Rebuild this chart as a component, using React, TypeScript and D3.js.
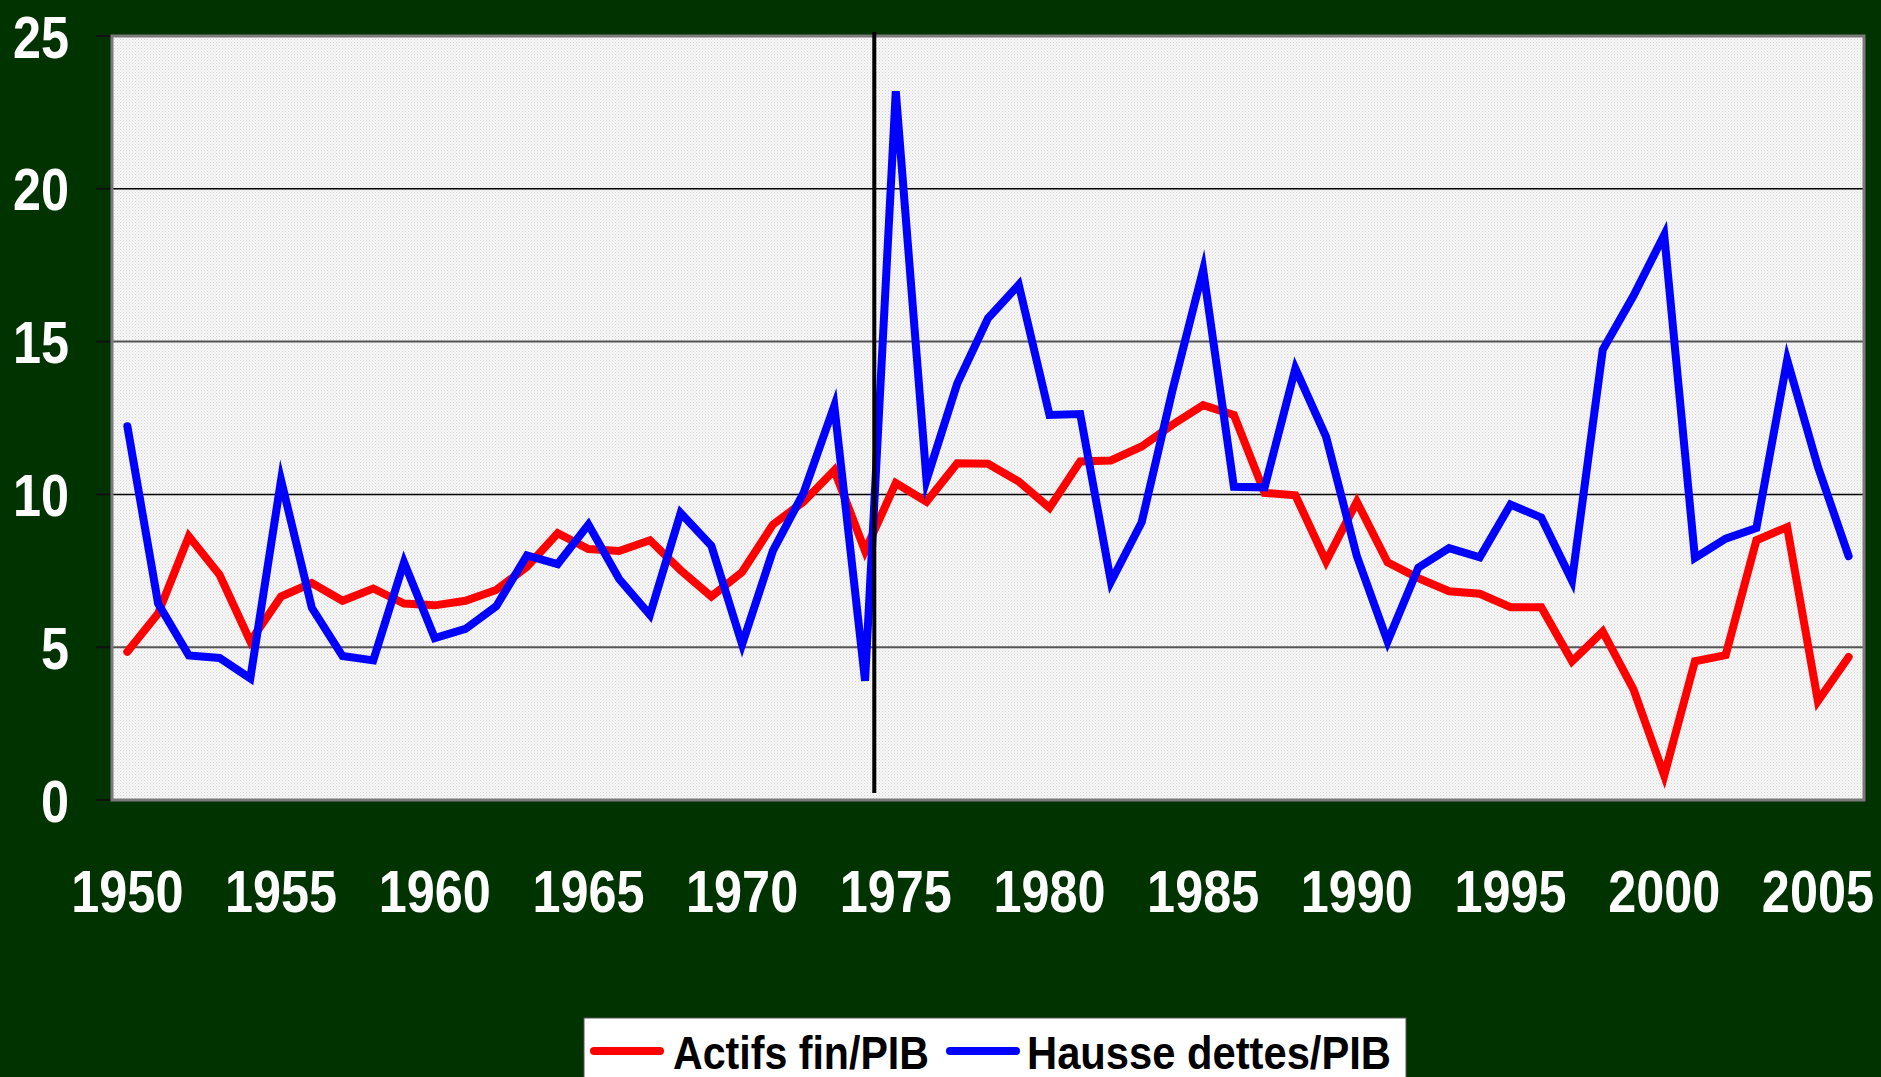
import React from "react";
import * as d3 from "d3";

const years: number[] = d3.range(1950, 2007);
const actifsFin: number[] = [
  4.85, 6.1, 8.63, 7.37, 5.19, 6.66, 7.1, 6.52, 6.92, 6.43,
  6.37, 6.52, 6.87, 7.63, 8.73, 8.21, 8.15, 8.5, 7.52, 6.66,
  7.46, 9.01, 9.76, 10.79, 8.15, 10.37, 9.76, 11.02, 11.0, 10.42,
  9.56, 11.08, 11.11, 11.57, 12.28, 12.92, 12.6, 10.05, 9.97, 7.81,
  9.76, 7.78, 7.26, 6.83, 6.75, 6.31, 6.31, 4.54, 5.51, 3.62,
  0.8, 4.54, 4.74, 8.5, 8.93, 3.24, 4.68,
];
const hausseDettes: number[] = [
  12.23, 6.43, 4.73, 4.65, 3.98, 10.47, 6.29, 4.71, 4.57, 7.78,
  5.3, 5.6, 6.34, 8.0, 7.72, 9.01, 7.23, 6.06, 9.39, 8.32,
  5.09, 8.15, 10.05, 12.9, 3.9, 23.19, 10.47, 13.63, 15.76, 16.86,
  12.6, 12.63, 7.14, 9.09, 13.4, 17.35, 10.25, 10.23, 14.12, 11.88,
  7.98, 5.19, 7.6, 8.24, 7.94, 9.67, 9.24, 7.18, 14.73, 16.5,
  18.49, 7.92, 8.55, 8.9, 14.4, 10.9, 7.98,
];
const yTicks: number[] = [0, 5, 10, 15, 20, 25];
const xTickLabels: number[] = [1950, 1955, 1960, 1965, 1970, 1975, 1980, 1985, 1990, 1995, 2000, 2005];
const markerYear = 1974.3;
const seriesNames: string[] = ["Actifs fin/PIB", "Hausse dettes/PIB"];
const seriesColors: string[] = ["#ff0000", "#0000ff"];

const W = 1881;
const H = 1077;
const plot = { left: 112, right: 1864, top: 36, bottom: 800 };
const FONT = "'Liberation Sans', Arial, sans-serif";
const NARROW = 0.84;

export default function App() {
  const x = d3.scaleLinear().domain([1949.5, 2006.5]).range([plot.left, plot.right]);
  const y = d3.scaleLinear().domain([0, 25]).range([plot.bottom, plot.top]);
  const line = d3
    .line<number>()
    .x((_, i) => x(years[i]))
    .y((d) => y(d));
  const series = [actifsFin, hausseDettes];

  return (
    <svg
      width={W}
      height={H}
      style={{ position: "fixed", left: 0, top: 0, display: "block" }}
    >
      <defs>
        <pattern id="dots" width="3" height="3" patternUnits="userSpaceOnUse">
          <rect width="3" height="3" fill="#f7f7f7" />
          <rect x="0" y="0" width="1" height="1" fill="#d6d6d6" />
          <rect x="1.5" y="1.5" width="1" height="1" fill="#dedede" />
        </pattern>
        <clipPath id="plotClip">
          <rect x={plot.left} y={plot.top - 6} width={plot.right - plot.left} height={plot.bottom - plot.top + 6} />
        </clipPath>
      </defs>
      <rect x={0} y={0} width={W} height={H} fill="#003300" />
      <rect
        x={plot.left + 2}
        y={plot.top + 2}
        width={plot.right - plot.left}
        height={plot.bottom - plot.top}
        fill="#1a1a1a"
        opacity={0.6}
      />
      <rect
        x={plot.left}
        y={plot.top}
        width={plot.right - plot.left}
        height={plot.bottom - plot.top}
        fill="url(#dots)"
      />
      {yTicks.filter((t) => t > 0 && t < 25).map((t) => (
        <line
          key={"g" + t}
          x1={plot.left}
          x2={plot.right}
          y1={y(t)}
          y2={y(t)}
          stroke={t % 10 === 0 ? "#000" : "#555"}
          strokeWidth={t % 10 === 0 ? 1.5 : 2}
        />
      ))}
      {yTicks.map((t) => (
        <line key={"t" + t} x1={96} x2={plot.left} y1={y(t)} y2={y(t)} stroke="#111" strokeWidth={2} />
      ))}
      <rect
        x={plot.left}
        y={plot.top}
        width={plot.right - plot.left}
        height={plot.bottom - plot.top}
        fill="none"
        stroke="#7a7a7a"
        strokeWidth={3}
      />
      <g clipPath="url(#plotClip)">
        {series.map((s, k) => (
          <path
            key={k}
            d={line(s) || ""}
            fill="none"
            stroke={seriesColors[k]}
            strokeWidth={8}
            strokeLinejoin="miter"
            strokeMiterlimit={6}
            strokeLinecap="round"
          />
        ))}
      </g>
      <line x1={x(markerYear)} x2={x(markerYear)} y1={32} y2={793} stroke="#000" strokeWidth={4} />
      {yTicks.map((t) => (
        <text
          key={"yl" + t}
          transform={`translate(69,${y(t)}) scale(${NARROW},1)`}
          dy="0.36em"
          textAnchor="end"
          fill="#fff"
          fontFamily={FONT}
          fontWeight="bold"
          fontSize={60}
        >
          {t}
        </text>
      ))}
      {xTickLabels.map((yr) => (
        <text
          key={"xl" + yr}
          transform={`translate(${x(yr)},912) scale(${NARROW},1)`}
          textAnchor="middle"
          fill="#fff"
          fontFamily={FONT}
          fontWeight="bold"
          fontSize={60}
        >
          {yr}
        </text>
      ))}
      <rect x={584} y={1018} width={822} height={80} fill="#fff" stroke="#555" strokeWidth={1} />
      <line x1={594} x2={660} y1={1051} y2={1051} stroke={seriesColors[0]} strokeWidth={8} strokeLinecap="round" />
      <text
        x={673}
        y={1069}
        textLength={256}
        lengthAdjust="spacingAndGlyphs"
        fill="#000"
        fontFamily={FONT}
        fontWeight="bold"
        fontSize={47}
      >
        {seriesNames[0]}
      </text>
      <line x1={950} x2={1016} y1={1051} y2={1051} stroke={seriesColors[1]} strokeWidth={8} strokeLinecap="round" />
      <text
        x={1027}
        y={1069}
        textLength={364}
        lengthAdjust="spacingAndGlyphs"
        fill="#000"
        fontFamily={FONT}
        fontWeight="bold"
        fontSize={47}
      >
        {seriesNames[1]}
      </text>
    </svg>
  );
}
